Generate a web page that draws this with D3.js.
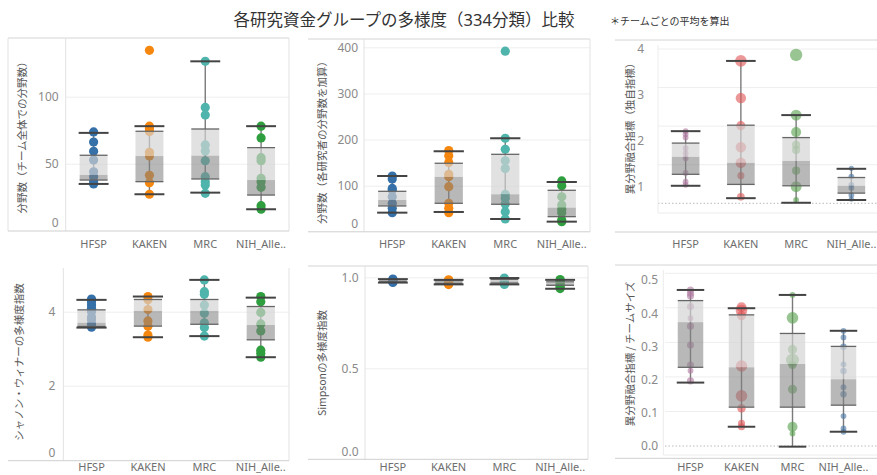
<!DOCTYPE html>
<html><head><meta charset="utf-8">
<script src="https://cdn.jsdelivr.net/npm/d3@7"></script>
<style>
body{margin:0;background:#fff;}
svg{font-family:"Noto Sans","Noto Sans CJK JP",sans-serif;}
</style></head><body><svg id="c" width="877" height="475"></svg>
<script>
// ---------------- DATA ----------------
const categories = ["HFSP","KAKEN","MRC","NIH_Alle.."];
const chartTitle = "各研究資金グループの多様度（334分類）比較";
const noteText = "＊チームごとの平均を算出";

// Box stats: [lower whisker, Q1, median, Q3, upper whisker]
const p1Title = "分野数（チーム全体での分野数）";
const p1Ticks = [0, 50, 100];
const p1Points = [
  [73.7,66.2,59.3,52.8,44,40.3,36.6,34.9],
  [134.6,78,76,74,58.5,55.7,41.3,35.8,27.2],
  [126.4,92,86.3,64,59.5,52.2,40.3,36.6,34.1,27.9],
  [78,69.2,54.5,52.2,39.1,36.6,32.4,18.7,16]
];
const p1Box = [[34.9,37.8,41.6,56.3,73],[27.2,36.6,55.7,74.2,78],[28.4,38.6,56,75.9,126.4],[16,26.6,37.8,62,78]];

const p2Title = "分野数（各研究者の分野数を加算）";
const p2Ticks = [0, 100, 200, 300, 400];
const p2Points = [
  [121,114.5,94,90.7,76,61.8,50.9,41.5],
  [176,165,150,124.7,119.5,97.9,61.8,51,41.5],
  [391.5,202.8,179,154,137,81,72.7,60.3,43.6,27.8],
  [110.2,100,76,58,48.8,41.4,25.6,22]
];
const p2Box = [[41.5,56,69,87.8,121],[43,61.8,118.9,148.6,174.6],[27.8,59.7,81.3,168,202.8],[22,32.8,52.3,90,108]];

const p3Title = "異分野融合指標（独自指標）";
const p3Ticks = [1, 2, 3, 4];
const p3Points = [
  [2.21,2.14,2.07,1.84,1.73,1.62,1.30,1.11,1.04],
  [3.74,2.93,2.33,1.86,1.52,1.24,0.78],
  [3.87,2.56,2.19,1.91,1.80,1.35,1.0,0.71],
  [1.40,1.22,1.04,0.97,0.82,0.73]
];
const p3Weights = [
  [2,2,2,2,2,2,2,2,2],
  [8,6.5,5,6.5,6.5,3,3.5],
  [9,7,6,4,4,4,7,2],
  [1.6,2,2,2,2,1.6]
];
const p3Box = [[1.02,1.27,1.65,1.95,2.21],[0.75,1.05,1.52,2.34,3.74],[0.65,1.02,1.56,2.07,2.56],[0.71,0.86,1.02,1.20,1.39]];

const p4Title = "シャノン・ウィナーの多様度指数";
const p4Ticks = [0, 2, 4];
const p4Points = [
  [4.34,4.27,4.18,4.09,4.0,3.86,3.78,3.67,3.58],
  [4.41,4.32,4.06,3.75,3.61,3.37,3.31],
  [4.86,4.54,4.47,4.18,3.96,3.70,3.57,3.34],
  [4.41,4.27,3.98,3.67,3.48,2.96,2.88,2.77]
];
const p4Box = [[3.57,3.60,3.70,4.05,4.32],[3.31,3.61,4.02,4.33,4.41],[3.34,3.66,4.02,4.33,4.86],[2.77,3.24,3.64,4.14,4.38]];

const p5Title = "Simpsonの多様度指数";
const p5Ticks = [0, 0.5, 1];
const p5Points = [
  [0.990,0.987,0.984,0.981,0.978,0.975,0.972],
  [0.986,0.982,0.977,0.972,0.968,0.963,0.960],
  [0.996,0.990,0.985,0.978,0.972,0.966,0.961],
  [0.988,0.982,0.975,0.966,0.955,0.945,0.938]
];
const p5Box = [[0.971,0.975,0.982,0.987,0.990],[0.961,0.966,0.975,0.981,0.986],[0.961,0.968,0.978,0.988,0.996],[0.937,0.956,0.967,0.975,0.986]];

const p6Title = "異分野融合指標 / チームサイズ";
const p6Ticks = [0, 0.1, 0.2, 0.3, 0.4, 0.5];
const p6Points = [
  [0.47,0.46,0.452,0.42,0.385,0.361,0.304,0.244,0.227,0.196],
  [0.418,0.408,0.392,0.241,0.151,0.113,0.068,0.058],
  [0.455,0.386,0.291,0.259,0.244,0.171,0.058,0.038],
  [0.347,0.327,0.299,0.246,0.226,0.177,0.156,0.090,0.053,0.043]
];
const p6Weights = [
  [3,3,3,3,2,3,3,3,2,3],
  [6,8,5,8,8,4,3,3],
  [2,8,5,10,4,5,6,2],
  [2,2,2.5,2,2.5,2,2.5,2,2,2]
];
const p6Box = [[0.191,0.237,0.373,0.438,0.47],[0.058,0.117,0.237,0.395,0.415],[-0.002,0.117,0.247,0.339,0.455],[0.043,0.123,0.201,0.300,0.347]];

// ---------------- STYLE / LAYOUT ----------------
const colorsA = ["#3570a8","#f5870f","#4fb4ab","#2f9e3f"];
const colorsB = ["#b07aa1","#e15759","#59a14f","#4e79a7"];

const svg = d3.select("#c");

svg.append("text").attr("x",404).attr("y",26).attr("text-anchor","middle")
  .attr("font-size",16.5).attr("fill","#333").text(chartTitle);
svg.append("text").attr("x",610).attr("y",25).attr("font-size",10)
  .attr("fill","#333").text(noteText);

const panels = [
  {title:p1Title, ticks:p1Ticks, pts:p1Points, box:p1Box, fmt:d3.format("d"), colors:colorsA,
   x0:65.7, x1:289, yTop:38, yBot:231, yd:[0,100], yr:[230.7,96.7], labelY:244,
   titleX:22, titleY:135, tickGap:7, frame:{top:[8,289,38], left:8, plotLeft:true, right:289, bottom:[8,289,231]}},
  {title:p2Title, ticks:p2Ticks, pts:p2Points, box:p2Box, fmt:d3.format("d"), colors:colorsA,
   x0:364, x1:590, yTop:39, yBot:231.8, yd:[0,400], yr:[231.8,47.3], labelY:244,
   titleX:322, titleY:140, tickGap:6, frame:{top:[308,590,39], plotLeft:true, right:590, bottom:[308,590,231.8]}},
  {title:p3Title, ticks:p3Ticks, pts:p3Points, w:p3Weights, box:p3Box, fmt:d3.format("d"), colors:colorsB,
   x0:658, x1:879, yTop:45, yBot:213, yd:[0,4], yr:[232.6,49], labelY:244,
   grid:{d:[0,4], r:[203.3,49], n:[0,1,2,3,4]},
   titleX:630, titleY:126, tickGap:14, frame:{top:[615,877,40], inner:true, bottom:[615,877,232]}},
  {title:p4Title, ticks:p4Ticks, pts:p4Points, box:p4Box, fmt:d3.format("d"), colors:colorsA,
   x0:63.3, x1:289, yTop:268, yBot:460.7, yd:[0,4], yr:[459.7,311.7], labelY:467.5,
   titleX:19, titleY:362, tickGap:8, frame:{plotLeft:true, right:289, bottom:[8,289,460.7]}},
  {title:p5Title, ticks:p5Ticks, pts:p5Points, box:p5Box, fmt:d3.format(".1f"), colors:colorsA,
   x0:365, x1:588, yTop:266, yBot:459.3, yd:[0,1], yr:[459.3,277.3], labelY:467.5,
   titleX:322, titleY:363, tickGap:6.5, frame:{top:[308,588,266], plotLeft:true, right:588, bottom:[308,588,459.3]}},
  {title:p6Title, ticks:p6Ticks, pts:p6Points, w:p6Weights, box:p6Box, fmt:d3.format(".1f"), colors:colorsB,
   x0:665, x1:869, yTop:270, yBot:455, yd:[0,0.5], yr:[446,280], labelY:467.5,
   grid:{d:[0,5], r:[446,273.3], n:[0,1,2,3,4,5]},
   titleX:630, titleY:354, tickGap:7, frame:{top:[615,877,265], inner:true, innerLeft:663.3, bottom:[615,877,458.3]}}
];

const rScale = d3.scaleSqrt().domain([0,10]).range([0,6.5]);

panels.forEach(p => {
  const g = svg.append("g");
  const x = d3.scaleBand().domain(categories).range([p.x0, p.x1]);
  const y = d3.scaleLinear().domain(p.yd).range(p.yr);
  const f = p.frame;

  // gridlines
  if (p.grid) {
    const gy = d3.scaleLinear().domain(p.grid.d).range(p.grid.r);
    p.grid.n.forEach((v,i) => {
      g.append("line").attr("x1",p.x0).attr("x2",877).attr("y1",gy(v)).attr("y2",gy(v))
        .attr("stroke", i===0 ? "#bbb" : "#eeeeee").attr("stroke-width",1)
        .attr("stroke-dasharray", i===0 ? "1.5,2" : null);
    });
  } else {
    const ga = g.append("g").attr("transform",`translate(${p.x0},0)`)
      .call(d3.axisLeft(y).tickValues(p.ticks.filter(v => y(v) < p.yBot - 2)).tickSize(-(p.x1-p.x0)).tickFormat(""));
    ga.select(".domain").remove();
    ga.selectAll("line").attr("stroke","#eeeeee");
  }

  // frame lines
  const fl = (x1,y1,x2,y2,c) => g.append("line").attr("x1",x1).attr("y1",y1).attr("x2",x2).attr("y2",y2).attr("stroke",c).attr("stroke-width",1);
  if (f.top) fl(f.top[0], f.top[2], f.top[1], f.top[2], "#d4d4d4");
  if (f.left) fl(f.left, p.yTop, f.left, p.yBot, "#e2e2e2");
  if (f.plotLeft) fl(p.x0, p.yTop, p.x0, p.yBot, "#e2e2e2");
  if (f.right) fl(f.right, p.yTop, f.right, p.yBot, "#e2e2e2");
  if (f.inner) {
    const il = f.innerLeft || p.x0;
    fl(il, p.yTop, il, p.yBot, "#ececec");
    fl(il, p.yBot, 877, p.yBot, "#ececec");
  }
  if (f.bottom) fl(f.bottom[0], f.bottom[2], f.bottom[1], f.bottom[2], "#cfcfcf");

  // y tick labels
  const ya = g.append("g").attr("transform",`translate(${p.x0 - p.tickGap},0)`)
    .call(d3.axisLeft(y).tickValues(p.ticks).tickSize(0).tickPadding(0).tickFormat(p.fmt));
  ya.select(".domain").remove();
  ya.selectAll("text").attr("font-size",12).attr("fill","#8a8a8a")
    .attr("font-family",'"Noto Sans","Noto Sans CJK JP",sans-serif')
    .attr("y", v => Math.min(y(v), p.yBot - 8) - y(v));

  // x labels
  const xa = g.append("g").attr("transform",`translate(0,${p.labelY})`)
    .call(d3.axisBottom(x).tickSize(0).tickPadding(0));
  xa.select(".domain").remove();
  xa.selectAll("text").attr("font-size",11).attr("fill","#6e6e6e").attr("dy","0.35em")
    .attr("font-family",'"Noto Sans","Noto Sans CJK JP",sans-serif');

  // axis title
  g.append("text").attr("transform",`translate(${p.titleX},${p.titleY}) rotate(-90)`)
    .attr("text-anchor","middle").attr("dy","0.35em").attr("font-size",10.5).attr("fill","#555")
    .attr("font-family",'"Noto Sans CJK JP",sans-serif').text(p.title);

  categories.forEach((c,i) => {
    const cx = x(c) + x.bandwidth()/2;
    const bw = x.bandwidth()*0.5;
    const [lw,q1,md,q3,uw] = p.box[i];
    // whisker line
    g.append("line").attr("x1",cx).attr("x2",cx).attr("y1",y(lw)).attr("y2",y(uw))
      .attr("stroke","#7a7a7a").attr("stroke-width",1.4);
    // points
    g.selectAll(null).data(p.pts[i].map((v,j)=>({v, w: p.w ? p.w[i][j] : null}))).enter()
      .append("circle").attr("cx",cx).attr("cy",d=>y(d.v))
      .attr("r", d => d.w ? rScale(d.w) : 4.6)
      .attr("fill", p.colors[i]).attr("fill-opacity", p.w ? 0.62 : 1);
    // box
    g.append("rect").attr("x",cx-bw/2).attr("width",bw).attr("y",y(q3)).attr("height",y(md)-y(q3))
      .attr("fill","#d3d3d3").attr("fill-opacity",0.68);
    g.append("rect").attr("x",cx-bw/2).attr("width",bw).attr("y",y(md)).attr("height",y(q1)-y(md))
      .attr("fill","#828282").attr("fill-opacity",0.57);
    [q1,q3].forEach(v => g.append("line").attr("x1",cx-bw/2).attr("x2",cx+bw/2).attr("y1",y(v)).attr("y2",y(v))
      .attr("stroke","#666").attr("stroke-width",1.3));
    [lw,uw].forEach(v => g.append("line").attr("x1",cx-bw/2-1).attr("x2",cx+bw/2+1).attr("y1",y(v)).attr("y2",y(v))
      .attr("stroke","#444").attr("stroke-width",2));
  });
});
</script></body></html>
